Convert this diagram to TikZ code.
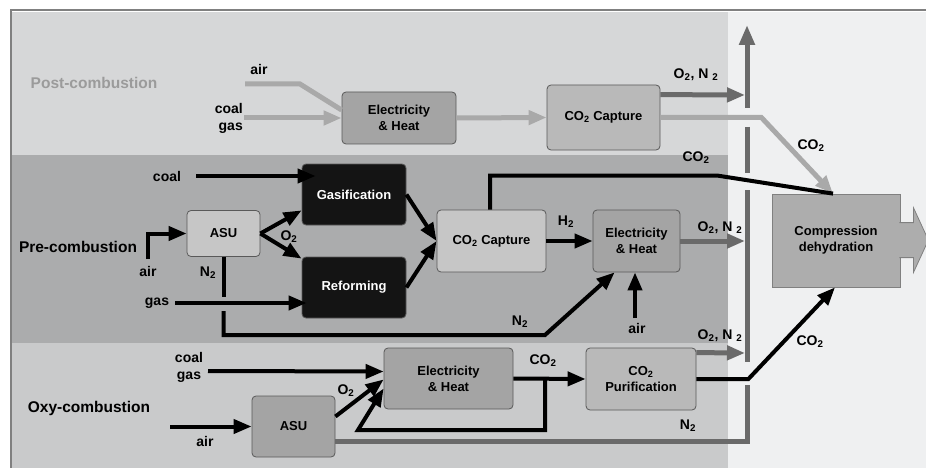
\documentclass[tikz,border=0pt]{standalone}
\usepackage{fontspec}
\setmainfont{Liberation Sans}
\usetikzlibrary{arrows.meta}
\definecolor{postband}{HTML}{D6D7D8}
\definecolor{preband}{HTML}{ABACAD}
\definecolor{oxyband}{HTML}{C9CACB}
\definecolor{outband}{HTML}{EFF0F1}
\definecolor{postflow}{HTML}{A9A9A9}
\definecolor{posttext}{HTML}{9B9B9B}
\definecolor{ventgray}{HTML}{6A6A6A}
\definecolor{ehgray}{HTML}{A4A4A4}
\definecolor{capgray}{HTML}{B9B9B9}
\definecolor{asugray}{HTML}{C6C6C6}
\definecolor{cmpgray}{HTML}{ADADAD}
\newcommand{\lab}{\fontsize{13}{16}\selectfont\bfseries}
\newcommand{\sublab}{\fontsize{14}{17}\selectfont\bfseries}
\newcommand{\biglab}{\fontsize{15.5}{18}\selectfont\bfseries}

\begin{document}
\begin{tikzpicture}[x=1pt,y=-1pt,
  procbox/.style={draw=black!65,line width=0.8pt,rounded corners=4pt,align=center,font=\lab,inner sep=0pt},
  lbl/.style={font=\sublab,inner sep=1pt},
  flow/.style={line width=4pt,black},
  post/.style={line width=5pt,postflow},
  vent/.style={line width=5pt,ventgray},
  arr/.style={-{Triangle[length=18pt,width=14pt]}}]
\useasboundingbox (0,0) rectangle (926,468);
% bands
\fill[white] (0,0) rectangle (926,468);
\fill[outband] (12,12) rectangle (926,468);
\fill[postband] (12,12) rectangle (728,155);
\fill[preband] (12,155) rectangle (728,343);
\fill[oxyband] (12,343) rectangle (728,468);
\draw[gray,line width=2pt] (11,468) -- (11,10) -- (926,10);

% stack
\coordinate (stackTop) at (747,25);
\draw[vent,-{Triangle[length=20pt,width=15pt]}] (747,108) -- (stackTop);
\draw[vent] (747,127) -- (747,173);
\draw[vent] (747,190) -- (747,362);

% units
\node[procbox,fill=ehgray,minimum width=114pt,minimum height=52pt] (pE) at (399,118) {Electricity\\\& Heat};
\node[procbox,fill=capgray,minimum width=113pt,minimum height=65pt] (pC) at (603.5,117.5) {CO\textsubscript{2} Capture};
\node[procbox,fill=asugray,minimum width=73pt,minimum height=46pt] (rASU) at (223.5,233.5) {ASU};
\node[procbox,fill=black!92,text=white,minimum width=104pt,minimum height=61pt] (rGas) at (354,194.5) {Gasification};
\node[procbox,fill=black!92,text=white,minimum width=104pt,minimum height=61pt] (rRef) at (354,287.5) {Reforming};
\node[procbox,fill=asugray,minimum width=109pt,minimum height=62pt] (rC) at (491.5,241) {CO\textsubscript{2} Capture};
\node[procbox,fill=ehgray,minimum width=87pt,minimum height=62pt] (rE) at (636.5,241) {Electricity\\\& Heat};
\node[procbox,fill=ehgray,minimum width=83pt,minimum height=61pt] (oASU) at (293.5,426.5) {ASU};
\node[procbox,fill=ehgray,minimum width=129pt,minimum height=61pt] (oE) at (448.5,378.5) {Electricity\\\& Heat};
\node[procbox,fill=capgray,minimum width=110pt,minimum height=62pt] (oP) at (641,379) {CO\textsubscript{2}\\Purification};
\node[draw=black!50,line width=0.8pt,fill=cmpgray,font=\lab,align=center,minimum width=128pt,minimum height=93pt] (cmp) at (836,240.5) {Compression\\dehydration};
\filldraw[fill=cmpgray,draw=black!50,line width=0.8pt] ([xshift=-1pt,yshift=-29pt]cmp.north east) -- ++(14,0) -- ++(0,-15) -- ++(15,32.5) -- ++(-15,32.5) -- ++(0,-15) -- ++(-14,0);

% labels
\node[font=\biglab,text=posttext] (pLab) at (94,83) {Post-combustion};
\node[lbl] (pAir) at (259,69) {air};
\node[lbl,align=right,anchor=east] (pFuel) at (244,118) {coal\\gas};
\node[lbl] (pOut) at (696,75) {O\textsubscript{2}, N \textsubscript{2}};
\node[lbl] (pCO2) at (811,146) {CO\textsubscript{2}};
\node[font=\biglab] (rLab) at (78,247) {Pre-combustion};
\node[lbl] (rCoal) at (167,176) {coal};
\node[lbl] (rGasIn) at (157,303) {gas};
\node[lbl] (rAir) at (148,271) {air};
\node[lbl] (rO2) at (289,237) {O\textsubscript{2}};
\node[lbl] (rN2a) at (208,273) {N\textsubscript{2}};
\node[lbl] (rN2b) at (520,322) {N\textsubscript{2}};
\node[lbl] (rH2) at (566,222) {H\textsubscript{2}};
\node[lbl] (rEAir) at (637,328) {air};
\node[lbl] (rOut) at (720,228) {O\textsubscript{2}, N \textsubscript{2}};
\node[lbl] (rCO2) at (696,158) {CO\textsubscript{2}};
\node[font=\biglab] (oLab) at (89,408) {Oxy-combustion};
\node[lbl,align=center] (oFuel) at (189,367) {coal\\gas};
\node[lbl] (oAir) at (205,441) {air};
\node[lbl] (oO2) at (346,391) {O\textsubscript{2}};
\node[lbl] (oCO2) at (543,361) {CO\textsubscript{2}};
\node[lbl] (oOut) at (720,336) {O\textsubscript{2}, N \textsubscript{2}};
\node[lbl] (oN2) at (688,426) {N\textsubscript{2}};
\node[lbl] (oCO2b) at (810,342) {CO\textsubscript{2}};

% post-combustion
\coordinate (pAirIn) at (245,84);
\coordinate (pVent) at (745,95);
\draw[post] (pAirIn) -- ++(55,0) -- ([yshift=8pt]pE.west);
\draw[post,arr] (pFuel.east) -- (pE.west);
\draw[post,arr] (pE.east) -- (pC.west);
\draw[vent,arr] ([yshift=-10pt]pC.north east) -- (pVent);
\draw[post,arr] (pC.east) -- ++(101,0) -- ([xshift=-3pt]cmp.north);

% pre-combustion
\coordinate (rAirIn) at (148,259);
\coordinate (rN2jump) at (223.5,311);
\coordinate (rEAirIn) at (635,318);
\coordinate (rVent) at (745,241);
\draw[flow,arr] ([xshift=14pt]rCoal.east) -- ([xshift=14pt]rCoal.east -| rGas.west);
\draw[flow,arr] ([xshift=5pt]rGasIn.east) -- ([xshift=5pt]rGasIn.east -| rRef.west);
\draw[flow,arr] (rAirIn) |- (rASU.west);
\draw[flow,arr] (rASU.east) -- ([yshift=15pt]rGas.south west);
\draw[flow,arr] (rASU.east) -- ([yshift=-2pt]rRef.north west);
\draw[flow,arr] (rGas.east) -- (rC.west);
\draw[flow,arr] (rRef.east) -- (rC.west);
\draw[flow] (rASU.south) -- ++(0,40);
\draw[flow,arr] (rN2jump) -- ++(0,24) -- ++(321.5,0) -- ([xshift=22pt]rE.south west);
\draw[flow,arr] (rC.east) -- (rE.west);
\draw[flow,arr] (rEAirIn) -- (rEAirIn |- rE.south);
\draw[vent,arr] (rE.east) -- (rVent);
\draw[flow] ([xshift=-1.5pt]rC.north) -- ++(0,-34) -- ++(227.5,0) -- ([xshift=-3pt]cmp.north);

% oxy-combustion
\coordinate (oFuelIn) at (208,371);
\coordinate (oAirIn) at (170,426.5);
\coordinate (oSplit) at (545,378.5);
\coordinate (oVent) at (745,353);
\draw[flow,arr] (oFuelIn) -- ([yshift=7pt]oE.west);
\draw[flow,arr] (oAirIn) -- (oASU.west);
\draw[flow,arr] ([yshift=10pt]oASU.east) -- ([yshift=-1pt]oE.west);
\draw[flow,arr] (oE.east) -- (oP.west);
\draw[flow,arr] (oSplit) -- ++(0,51.5) -- ++(-187,0) -- ([yshift=-10pt]oE.west);
\draw[vent,arr] ([yshift=-5pt]oP.north east) -- (oVent);
\draw[flow,arr] (oP.east) -- ++(52,0) -- ([xshift=-1pt]cmp.south);
\draw[vent] ([yshift=16pt]oASU.south east) -- ++(412,0) -- ++(0,-56);
\end{tikzpicture}
\end{document}
